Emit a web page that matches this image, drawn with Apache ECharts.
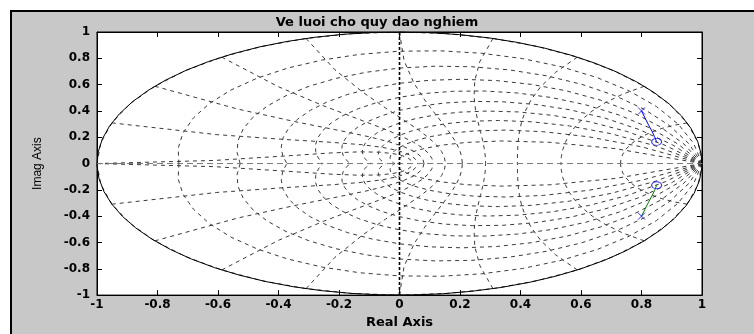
<!DOCTYPE html>
<html>
<head>
<meta charset="utf-8">
<script src="https://cdn.jsdelivr.net/npm/echarts@6/dist/echarts.min.js"></script>
<style>
  html, body { margin: 0; padding: 0; background: #ffffff; }
  #frame { position: absolute; left: 10px; top: 10px; width: 744px; height: 324px;
           background: #c8c8c8; border-left: 2px solid #000; border-top: 2px solid #000; box-sizing: border-box; }
  #chart { position: absolute; left: 0; top: 0; width: 754px; height: 334px; }
</style>
</head>
<body>
<div id="frame"></div>
<div id="chart"></div>
<script>
// z-plane grid parameters: damping ratios and natural frequencies (fractions of pi/T)
const zetaValues = [0, 0.1, 0.2, 0.3, 0.4, 0.5, 0.6, 0.7, 0.8, 0.9];
const wnFractions = [0, 0.1, 0.2, 0.3, 0.4, 0.5, 0.6, 0.7, 0.8, 0.9, 1.0];
const axisTicks = [-1, -0.8, -0.6, -0.4, -0.2, 0, 0.2, 0.4, 0.6, 0.8, 1];

// root locus branches (pole -> zero)
const upperBranch = [[0.800, 0.400], [0.812, 0.345], [0.824, 0.290], [0.836, 0.240], [0.843, 0.205], [0.850, 0.165]];
const lowerBranch = [[0.800, -0.400], [0.812, -0.345], [0.824, -0.290], [0.836, -0.240], [0.843, -0.205], [0.850, -0.165]];
const polePoints = [[0.800, 0.400], [0.800, -0.400]];
const zeroPoints = [[0.850, 0.165], [0.850, -0.165]];

const FONT = "'DejaVu Sans', 'Liberation Sans', Arial, sans-serif";
const FONT_PLAIN = "'Liberation Sans', Arial, sans-serif";

// grid curves built from the zeta / wn definitions above
function dampingCurve(zeta, sign) {
  const m = Math.tan(Math.asin(zeta)) + 2.2e-16;
  const pts = [];
  for (let k = 0; k <= 20; k++) {
    const t = k * Math.PI / 20;
    const r = Math.exp(-m * t);
    pts.push([r * Math.cos(t), sign * r * Math.sin(t)]);
  }
  return pts;
}
function frequencyCurve(frac, sign) {
  const wn = frac * Math.PI;
  const pts = [];
  for (let k = 0; k <= 10; k++) {
    const th = Math.PI / 2 + k * Math.PI / 20;
    const r = Math.exp(wn * Math.cos(th));
    const a = wn * Math.sin(th);
    pts.push([r * Math.cos(a), sign * r * Math.sin(a)]);
  }
  return pts;
}
function unitCircle() {
  const pts = [];
  for (let t = 0; t <= 6.3 + 1e-9; t += 0.1) pts.push([Math.sin(t), Math.cos(t)]);
  return pts;
}

const gridStyle = { color: '#3a3a3a', width: 1, type: [4, 4] };
const series = [];
function addLine(data, style, z) {
  series.push({ type: 'line', data: data, showSymbol: false, silent: true, animation: false,
    lineStyle: style, z: z || 2, xAxisIndex: 0, yAxisIndex: 0 });
}
zetaValues.forEach(z => { addLine(dampingCurve(z, 1), gridStyle); addLine(dampingCurve(z, -1), gridStyle); });
wnFractions.forEach(w => { addLine(frequencyCurve(w, 1), gridStyle); addLine(frequencyCurve(w, -1), gridStyle); });
addLine(unitCircle(), { color: '#000', width: 1, type: 'solid' }, 3);
// axis lines through the origin
addLine([[-1, 0], [1, 0]], { color: '#777', width: 1, type: [6, 4] }, 3);
addLine([[0, -1], [0, 1]], { color: '#000', width: 1.6, type: [3, 2] }, 3);
// root locus branches
addLine(upperBranch, { color: '#0000ff', width: 1, type: 'solid' }, 5);
addLine(lowerBranch, { color: '#008000', width: 1, type: 'solid' }, 5);
series.push({ type: 'scatter', data: polePoints, symbol: 'path://M0,0L10,10M10,0L0,10', symbolSize: 7,
  itemStyle: { color: 'none', borderColor: '#0000ff', borderWidth: 1 }, z: 6, silent: true, animation: false });
series.push({ type: 'scatter', data: zeroPoints, symbol: 'circle', symbolSize: [10, 7],
  itemStyle: { color: 'none', borderColor: '#0000ff', borderWidth: 1 }, z: 6, silent: true, animation: false });

const labelStyle = { color: '#000', fontFamily: FONT, fontWeight: 'bold', fontSize: 12 };
function axisBase(extra) {
  return Object.assign({
    type: 'value', min: -1, max: 1, interval: 0.2,
    axisLine: { show: true, onZero: false, lineStyle: { color: '#000', width: 1 } },
    axisTick: { show: true, inside: true, length: 5, lineStyle: { color: '#000' } },
    splitLine: { show: false }
  }, extra);
}

const chart = echarts.init(document.getElementById('chart'), null, { renderer: 'canvas' });
chart.setOption({
  backgroundColor: 'transparent',
  animation: false,
  title: { text: 'Ve luoi cho quy dao nghiem', left: 'center', top: 11,
    textStyle: { fontFamily: FONT, fontWeight: 'bold', fontSize: 13, color: '#000' } },
  grid: { left: 97, top: 32, width: 605, height: 274, show: true, backgroundColor: '#fff',
    borderColor: '#000', borderWidth: 1 },
  xAxis: [
    axisBase({ position: 'bottom', name: 'Real Axis', nameLocation: 'middle', nameGap: 20,
      nameTextStyle: Object.assign({}, labelStyle, { fontSize: 13 }),
      axisLabel: Object.assign({ margin: 4, formatter: v => String(Math.round(v * 10) / 10) }, labelStyle) }),
    axisBase({ position: 'top', axisLabel: { show: false } })
  ],
  yAxis: [
    axisBase({ position: 'left', name: 'Imag Axis', nameLocation: 'middle', nameGap: 53,
      nameTextStyle: { color: '#000', fontFamily: FONT_PLAIN, fontSize: 12 },
      axisLabel: Object.assign({ margin: 7, formatter: v => String(Math.round(v * 10) / 10) }, labelStyle) }),
    axisBase({ position: 'right', axisLabel: { show: false } })
  ],
  series: series
});
</script>
</body>
</html>
